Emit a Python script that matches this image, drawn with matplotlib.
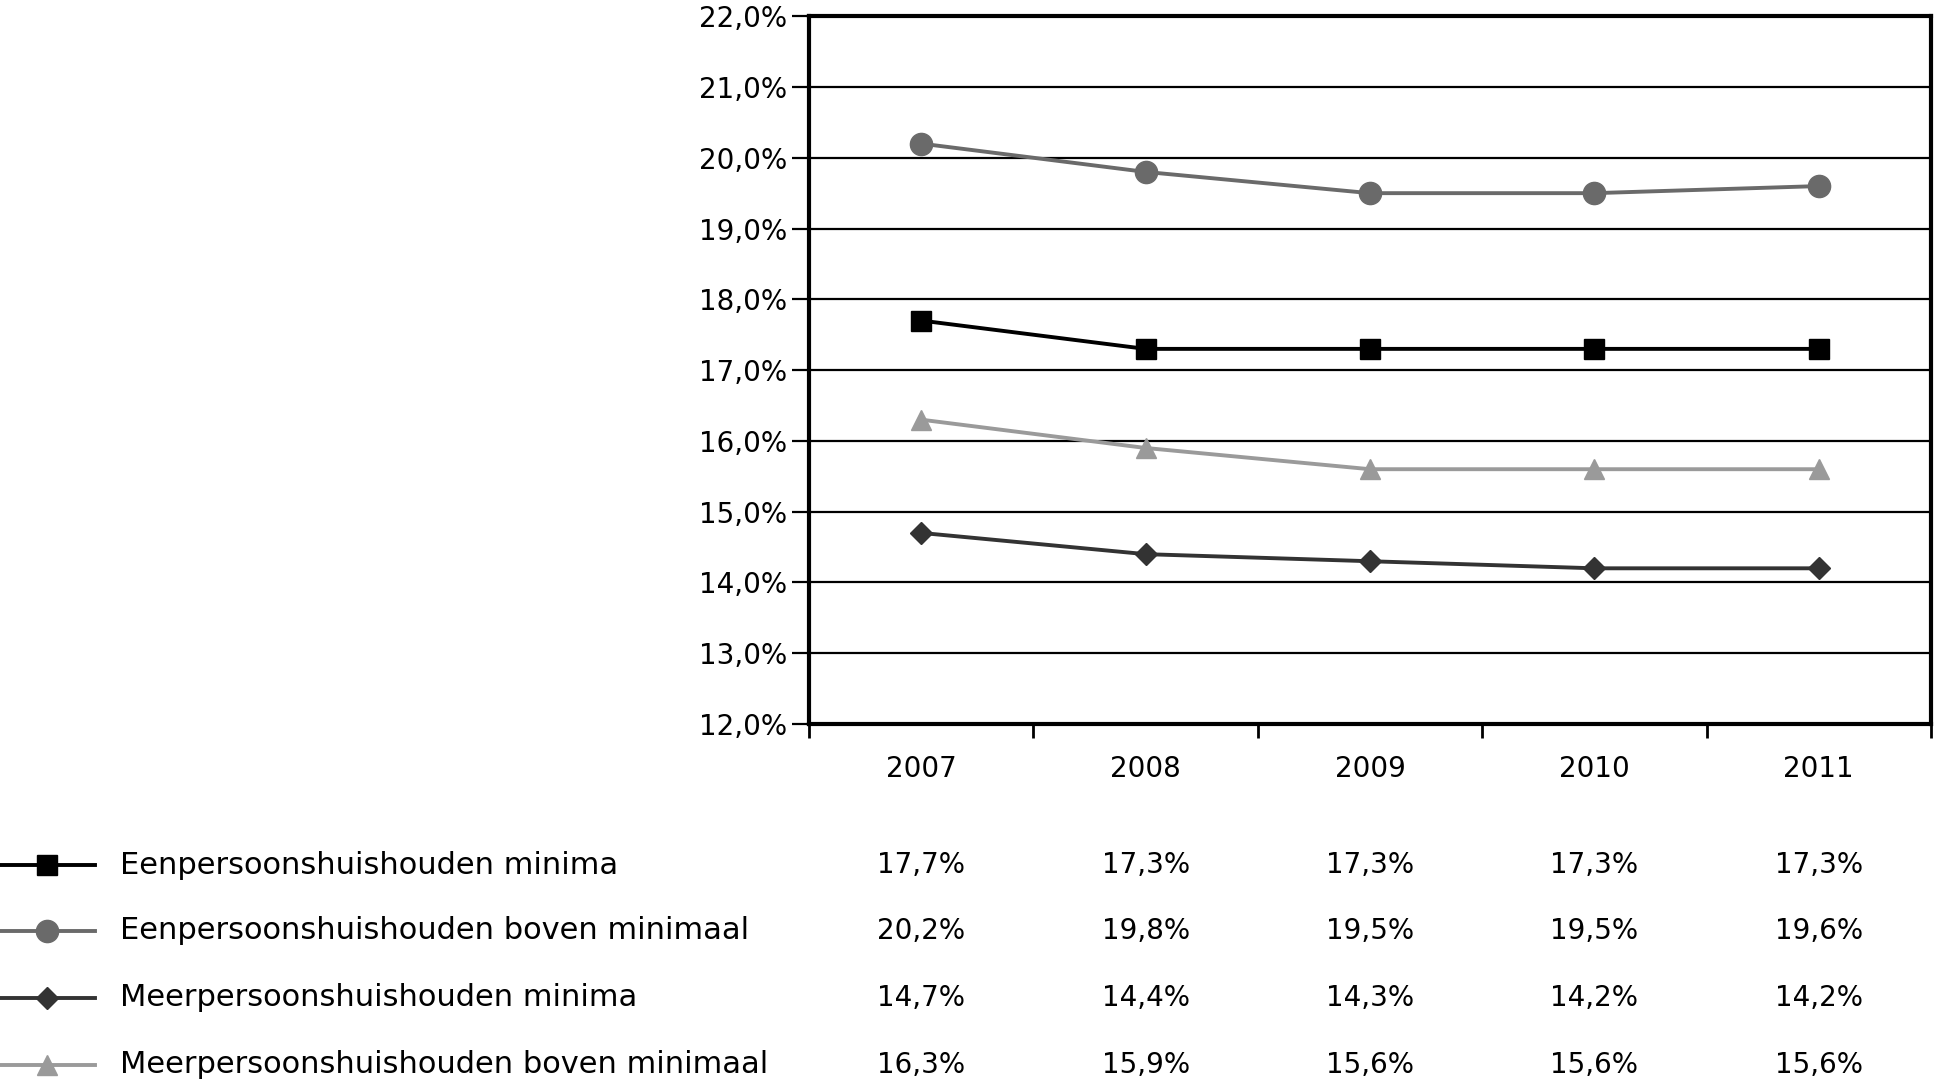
import numpy as np
import matplotlib.pyplot as plt
from matplotlib.ticker import FuncFormatter, FixedLocator
import matplotlib.transforms as mtransforms

plt.rcParams['font.family'] = ['DejaVu Sans']

years = ['2007', '2008', '2009', '2010', '2011']
series_names = ['Eenpersoonshuishouden minima',
                'Eenpersoonshuishouden boven minimaal',
                'Meerpersoonshuishouden minima',
                'Meerpersoonshuishouden boven minimaal']
een_minima = [17.7, 17.3, 17.3, 17.3, 17.3]
een_boven = [20.2, 19.8, 19.5, 19.5, 19.6]
meer_minima = [14.7, 14.4, 14.3, 14.2, 14.2]
meer_boven = [16.3, 15.9, 15.6, 15.6, 15.6]

values = [een_minima, een_boven, meer_minima, meer_boven]
colors = ['#000000', '#6a6a6a', '#333333', '#9a9a9a']
markers = ['s', 'o', 'D', '^']
msizes = [15, 16, 11, 15]

fig = plt.figure(figsize=(19.34, 10.80), dpi=100)
ax = fig.add_axes([0.4183, 0.3296, 0.5801, 0.6554])

x = np.arange(1, len(years) + 1)
for vals, c, m, ms in zip(values, colors, markers, msizes):
    ax.plot(x, vals, color=c, marker=m, markersize=ms, linewidth=2.8,
            markeredgecolor=c, clip_on=False, zorder=3)

def pct(v, pos):
    return '{:.1f}%'.format(v).replace('.', ',')

ax.set_ylim(12, 22)
ax.set_yticks(np.arange(12, 22.1, 1))
ax.yaxis.set_major_formatter(FuncFormatter(pct))
ax.set_xlim(0.5, len(years) + 0.5)
ax.xaxis.set_major_locator(FixedLocator(np.arange(0.5, len(years) + 1, 1)))
ax.set_xticklabels([])
ax.grid(axis='y', color='black', linewidth=1.6)
ax.set_axisbelow(True)
for s in ax.spines.values():
    s.set_linewidth(3)
ax.tick_params(axis='y', direction='out', length=12, width=1.6, labelsize=20, pad=4)
ax.tick_params(axis='x', direction='out', length=10, width=2)

for xi, yr in zip(x, years):
    ax.text(xi, -0.064, yr, transform=ax.get_xaxis_transform(), ha='center',
            va='center', fontsize=20)

# table below the chart
trans = mtransforms.blended_transform_factory(ax.transData, fig.transFigure)
row_y = [0.199, 0.138, 0.076, 0.014]
for name, vals, c, m, ms, yy in zip(series_names, values, colors, markers, msizes, row_y):
    fig.lines.append(plt.Line2D([0.0, 0.049], [yy, yy], transform=fig.transFigure,
                                color=c, linewidth=2.8, figure=fig))
    fig.lines.append(plt.Line2D([0.0243], [yy], transform=fig.transFigure,
                                color=c, marker=m, markersize=ms, markeredgecolor=c,
                                figure=fig))
    fig.text(0.062, yy, name, ha='left', va='center', fontsize=22)
    for xi, v in zip(x, vals):
        fig.text(xi, yy, pct(v, None), transform=trans, ha='center', va='center',
                 fontsize=20)

fig.savefig('out.png', dpi=100)
